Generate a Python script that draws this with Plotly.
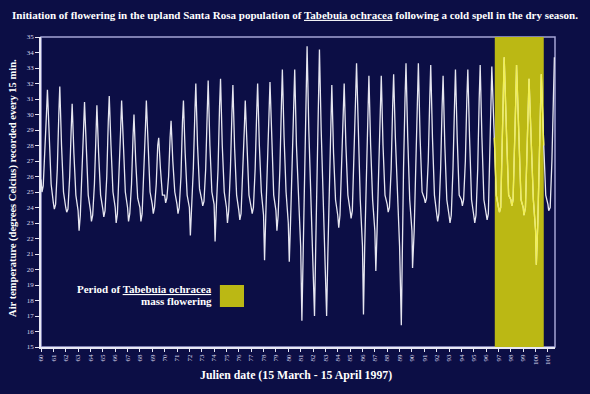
import plotly.graph_objects as go

# ---- data (Julian day, air temperature in degrees C) ----
# vertices of the 15-min temperature trace (key turning points per day)
obs_day = [
    60.00, 60.08, 60.18, 60.32, 60.44, 60.52, 60.66, 60.82,
    61.00, 61.08, 61.18, 61.32, 61.44, 61.52, 61.66, 61.82,
    62.00, 62.08, 62.18, 62.32, 62.44, 62.52, 62.66, 62.82,
    63.00, 63.08, 63.18, 63.32, 63.44, 63.52, 63.66, 63.82,
    64.00, 64.08, 64.18, 64.32, 64.44, 64.52, 64.66, 64.82,
    65.00, 65.08, 65.18, 65.32, 65.44, 65.52, 65.66, 65.82,
    66.00, 66.08, 66.18, 66.32, 66.44, 66.52, 66.66, 66.82,
    67.00, 67.08, 67.18, 67.32, 67.44, 67.52, 67.66, 67.82,
    68.00, 68.08, 68.18, 68.32, 68.44, 68.52, 68.66, 68.82,
    69.00, 69.08, 69.18, 69.32, 69.44, 69.52, 69.66, 69.82,
    70.00, 70.08, 70.18, 70.32, 70.44, 70.52, 70.66, 70.82,
    71.00, 71.08, 71.18, 71.32, 71.44, 71.52, 71.66, 71.82,
    72.00, 72.08, 72.18, 72.32, 72.44, 72.52, 72.66, 72.82,
    73.00, 73.08, 73.18, 73.32, 73.44, 73.52, 73.66, 73.82,
    74.00, 74.08, 74.18, 74.32, 74.44, 74.52, 74.66, 74.82,
    75.00, 75.08, 75.18, 75.32, 75.44, 75.52, 75.66, 75.82,
    76.00, 76.08, 76.18, 76.32, 76.44, 76.52, 76.66, 76.82,
    77.00, 77.08, 77.18, 77.32, 77.44, 77.52, 77.66, 77.82,
    78.00, 78.08, 78.18, 78.32, 78.44, 78.52, 78.66, 78.82,
    79.00, 79.08, 79.18, 79.32, 79.44, 79.52, 79.66, 79.82,
    80.00, 80.08, 80.18, 80.32, 80.44, 80.52, 80.66, 80.82,
    81.00, 81.10, 81.20, 81.32, 81.44, 81.52, 81.66, 81.82,
    82.00, 82.12, 82.22, 82.32, 82.44, 82.52, 82.66, 82.82,
    83.00, 83.10, 83.20, 83.32, 83.44, 83.52, 83.66, 83.82,
    84.00, 84.08, 84.18, 84.32, 84.44, 84.52, 84.66, 84.82,
    85.00, 85.08, 85.18, 85.32, 85.44, 85.52, 85.66, 85.82,
    86.00, 86.08, 86.18, 86.32, 86.44, 86.52, 86.66, 86.82,
    87.00, 87.08, 87.18, 87.32, 87.44, 87.52, 87.66, 87.82,
    88.00, 88.08, 88.18, 88.32, 88.44, 88.52, 88.66, 88.82,
    89.00, 89.14, 89.22, 89.32, 89.44, 89.52, 89.66, 89.82,
    90.00, 90.05, 90.18, 90.32, 90.44, 90.52, 90.66, 90.82,
    91.00, 91.08, 91.18, 91.32, 91.44, 91.52, 91.66, 91.82,
    92.00, 92.08, 92.18, 92.32, 92.44, 92.52, 92.66, 92.82,
    93.00, 93.08, 93.18, 93.32, 93.44, 93.52, 93.66, 93.82,
    94.00, 94.08, 94.18, 94.32, 94.44, 94.52, 94.66, 94.82,
    95.00, 95.08, 95.18, 95.32, 95.44, 95.52, 95.66, 95.82,
    96.00, 96.08, 96.18, 96.32, 96.40, 96.46, 96.66, 96.82,
    97.00, 97.08, 97.18, 97.32, 97.40, 97.46, 97.66, 97.82,
    98.00, 98.08, 98.18, 98.32, 98.40, 98.46, 98.66, 98.82,
    99.00, 99.06, 99.18, 99.32, 99.40, 99.47, 99.66, 99.82,
    100.00, 100.06, 100.18, 100.32, 100.40, 100.46, 100.66, 100.82,
    101.00, 101.06, 101.18, 101.32, 101.44, 101.52,
]
obs_temp = [
    25.8, 25.0, 25.4, 27.5, 30.0, 31.6, 29.0, 25.5,
    24.3, 23.9, 24.2, 26.5, 30.0, 31.8, 28.0, 25.0,
    24.0, 23.7, 23.9, 26.0, 29.0, 30.7, 27.5, 24.8,
    23.8, 22.5, 23.5, 26.0, 29.0, 30.8, 27.5, 24.8,
    23.8, 23.1, 23.5, 25.5, 28.5, 30.6, 27.5, 24.8,
    23.9, 23.4, 23.8, 26.0, 29.5, 31.2, 28.0, 25.0,
    24.0, 23.0, 23.6, 26.0, 29.0, 30.9, 27.8, 25.0,
    24.0, 23.1, 23.6, 25.5, 28.5, 30.0, 27.0, 24.6,
    24.0, 23.1, 23.6, 26.0, 29.0, 30.9, 27.5, 25.0,
    24.2, 23.6, 24.0, 25.5, 28.0, 28.5, 26.5, 24.8,
    24.8, 24.3, 24.6, 26.0, 28.5, 29.6, 27.0, 25.0,
    24.2, 23.6, 24.0, 26.0, 29.5, 30.9, 27.5, 24.8,
    24.0, 22.2, 24.0, 26.5, 30.0, 32.0, 28.0, 25.2,
    24.5, 24.1, 24.4, 26.5, 30.0, 32.2, 28.0, 25.0,
    24.2, 21.8, 24.0, 26.5, 30.5, 32.3, 28.0, 25.0,
    24.0, 23.0, 23.8, 26.5, 30.0, 31.9, 27.8, 24.8,
    23.8, 23.2, 23.6, 26.0, 29.0, 30.9, 27.5, 24.8,
    24.0, 23.6, 24.0, 26.5, 30.0, 32.0, 28.0, 25.0,
    23.5, 20.6, 23.5, 26.5, 30.0, 32.1, 28.0, 24.8,
    23.8, 22.5, 23.5, 26.5, 30.5, 32.9, 28.5, 25.0,
    23.0, 20.5, 23.0, 26.5, 30.5, 32.9, 28.0, 24.5,
    21.5, 16.7, 21.5, 26.0, 31.0, 34.4, 29.0, 25.0,
    21.5, 17.0, 21.5, 26.0, 31.0, 34.2, 29.0, 24.5,
    21.0, 17.0, 21.0, 25.5, 29.5, 31.9, 27.5, 24.5,
    23.5, 22.7, 23.5, 26.5, 30.0, 32.0, 28.0, 24.8,
    23.8, 23.3, 23.8, 27.0, 31.0, 33.3, 28.5, 24.5,
    21.5, 17.1, 21.5, 26.0, 30.5, 32.5, 28.0, 24.5,
    22.5, 19.9, 22.5, 26.0, 30.5, 32.5, 28.0, 24.8,
    24.2, 23.7, 24.0, 26.5, 30.5, 32.6, 28.5, 24.5,
    21.5, 16.4, 21.5, 26.5, 31.0, 33.3, 28.5, 24.5,
    22.5, 20.1, 22.5, 26.5, 31.0, 33.3, 28.5, 25.0,
    24.6, 24.3, 24.6, 27.0, 31.0, 33.2, 28.5, 24.8,
    23.6, 23.1, 23.6, 26.5, 30.5, 32.5, 28.0, 24.5,
    23.5, 23.0, 23.5, 26.5, 30.5, 32.9, 28.5, 24.8,
    24.5, 24.1, 24.5, 27.0, 31.0, 32.9, 28.5, 24.5,
    23.5, 23.0, 23.5, 26.5, 31.0, 33.2, 28.5, 24.5,
    23.6, 23.2, 23.6, 27.5, 31.0, 33.1, 28.5, 24.8,
    24.0, 23.7, 24.0, 28.0, 31.5, 33.7, 28.5, 24.8,
    24.5, 24.1, 24.5, 28.0, 31.0, 33.2, 28.5, 24.5,
    24.0, 23.5, 24.0, 27.5, 30.5, 32.3, 28.0, 24.5,
    22.5, 20.3, 23.0, 27.5, 31.0, 32.6, 28.0, 24.8,
    24.2, 23.8, 24.0, 27.0, 31.0, 33.7,
]

x_ticks = list(range(60, 102))
y_ticks = list(range(15, 36))
flowering_start = 96.7
flowering_end = 100.66

title_text = ("Initiation of flowering in the upland Santa Rosa population of "
              "<u>Tabebuia ochracea</u> following a cold spell in the dry season.")
x_title = "Julien date (15 March - 15 April 1997)"
y_title = "Air temperature (degrees Celcius) recorded every 15 min."
legend_line1 = "Period of <u>Tabebuia ochracea</u>"
legend_line2 = "mass flowering"

# ---- styling ----
BG = "#0c0e45"
YELLOW = "#bbb814"
FONT = "Liberation Serif"

# points inside the flowering window, drawn again with a yellow tint
in_x, in_y = [], []
for d, t in zip(obs_day, obs_temp):
    if flowering_start - 0.15 <= d <= flowering_end + 0.1:
        in_x.append(d)
        in_y.append(t)

fig = go.Figure()
fig.add_trace(go.Scatter(x=obs_day, y=obs_temp, mode="lines",
                         line=dict(color="#e6e6f0", width=1.3),
                         hoverinfo="skip", showlegend=False))
fig.add_trace(go.Scatter(x=in_x, y=in_y, mode="lines",
                         line=dict(color="#f2f050", width=1.3),
                         hoverinfo="skip", showlegend=False))

# flowering window
fig.add_shape(type="rect", xref="x", yref="y", x0=flowering_start, x1=flowering_end,
              y0=15, y1=35, fillcolor=YELLOW, line=dict(width=0), layer="below")
# plot frame (top/right)
fig.add_shape(type="rect", xref="paper", yref="paper", x0=0, x1=1, y0=0, y1=1,
              line=dict(color="#a4a4d4", width=1.5), fillcolor="rgba(0,0,0,0)", layer="below")
# legend square
fig.add_shape(type="rect", xref="paper", yref="paper", x0=0.348, x1=0.395, y0=0.129, y1=0.2,
              fillcolor=YELLOW, line=dict(width=0))

fig.add_annotation(xref="paper", yref="paper", x=0.3366, y=0.187, text="<b>" + legend_line1 + "</b>",
                   showarrow=False, xanchor="right", yanchor="middle",
                   font=dict(family=FONT, size=11, color="white"))
fig.add_annotation(xref="paper", yref="paper", x=0.3366, y=0.150, text="<b>" + legend_line2 + "</b>",
                   showarrow=False, xanchor="right", yanchor="middle",
                   font=dict(family=FONT, size=11, color="white"))

fig.add_annotation(xref="paper", yref="paper", x=0.497, y=-0.090, text="<b>" + x_title + "</b>",
                   showarrow=False, xanchor="center", yanchor="middle",
                   font=dict(family=FONT, size=11.8, color="white"))
fig.add_annotation(xref="paper", yref="paper", x=-0.0545, y=0.513, text="<b>" + y_title + "</b>",
                   showarrow=False, xanchor="center", yanchor="middle", textangle=-90,
                   font=dict(family=FONT, size=10.5, color="white"))

fig.update_layout(
    width=590, height=394,
    margin=dict(l=41, r=35, t=37, b=47),
    paper_bgcolor=BG, plot_bgcolor=BG,
    title=dict(text="<b>" + title_text + "</b>", x=0.5, xanchor="center",
               y=1 - 15 / 394, yanchor="middle",
               font=dict(family=FONT, size=11.0, color="white")),
    xaxis=dict(range=[60, 101.57], tickmode="array", tickvals=x_ticks,
               ticktext=[str(v) for v in x_ticks], tickangle=-90,
               showgrid=False, zeroline=False, showline=True, linecolor="#e8e8f4", linewidth=1.5,
               ticks="outside", ticklen=3, tickcolor="#e8e8f4", tickwidth=1,
               tickfont=dict(family=FONT, size=7, color="#d8d8ec")),
    yaxis=dict(range=[15, 35], tickmode="array", tickvals=y_ticks,
               ticktext=[str(v) for v in y_ticks],
               showgrid=False, zeroline=False, showline=True, linecolor="#e8e8f4", linewidth=1.5,
               ticks="outside", ticklen=4, tickcolor="#e8e8f4", tickwidth=1,
               tickfont=dict(family=FONT, size=7, color="#d8d8ec")),
)

page_css = ("document.body.style.margin='0';"
            "document.body.style.padding='0';"
            "document.body.style.background='" + BG + "';")
fig.write_html("out.html", post_script=page_css, config={"displayModeBar": False})
